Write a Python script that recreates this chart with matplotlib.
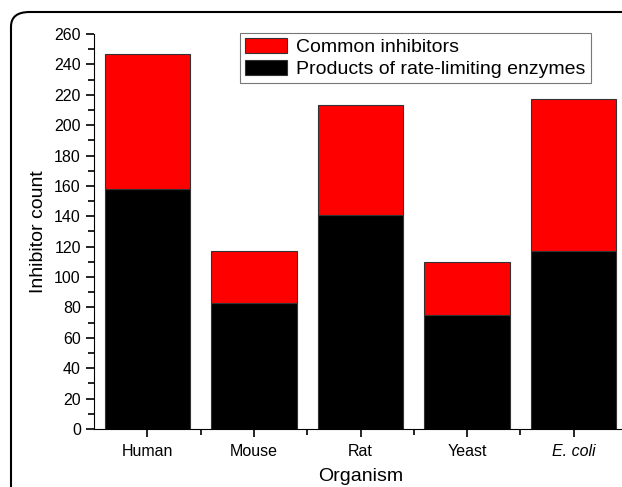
import matplotlib.pyplot as plt
from matplotlib.patches import FancyBboxPatch
from matplotlib.ticker import MultipleLocator, FixedLocator

plt.rcParams['font.family'] = ['Liberation Sans', 'DejaVu Sans']

organisms = ["Human", "Mouse", "Rat", "Yeast", "E. coli"]
rate_limiting = [158, 83, 141, 75, 117]
common = [89, 34, 72, 35, 100]  # stacked on top

fig = plt.figure(figsize=(6.22, 4.87), dpi=100)

# rounded frame around the figure (runs off right and bottom edge)
frame = FancyBboxPatch((11 / 622, -0.05), 1.1, 1.05 - 12 / 487,
                       boxstyle="round,pad=0,rounding_size=0.03",
                       transform=fig.transFigure, fill=False,
                       edgecolor="black", linewidth=1.5, clip_on=False)
fig.patches.append(frame)

ax = fig.add_axes([94 / 622, 1 - 429 / 487, 533 / 622, 395 / 487])
x = range(len(organisms))
ax.bar(x, rate_limiting, width=0.8, color="black", edgecolor="#333333",
       linewidth=0.8, label="Products of rate-limiting enzymes")
ax.bar(x, common, width=0.8, bottom=rate_limiting, color="#ff0000",
       edgecolor="#333333", linewidth=0.8, label="Common inhibitors")

ax.set_xlim(-0.5, 4.5)
ax.set_ylim(0, 260)
ax.yaxis.set_major_locator(MultipleLocator(20))
ax.yaxis.set_minor_locator(MultipleLocator(10))
ax.set_xticks(list(x))
ax.set_xticklabels(organisms)
ax.get_xticklabels()[4].set_style("italic")
ax.xaxis.set_minor_locator(FixedLocator([0.5, 1.5, 2.5, 3.5]))
for s in ("top", "right"):
    ax.spines[s].set_visible(False)
ax.tick_params(axis="both", which="major", direction="out", length=6,
               width=1.2, labelsize=11.5)
ax.tick_params(axis="both", which="minor", direction="out", length=4,
               width=1.2)
ax.tick_params(axis="x", which="major", pad=5)

ax.set_xlabel("Organism", fontsize=14, labelpad=6)
ax.set_ylabel("Inhibitor count", fontsize=14, labelpad=5)

handles, labels = ax.get_legend_handles_labels()
leg = ax.legend(handles[::-1], labels[::-1], loc="upper left",
                bbox_to_anchor=(146 / 533, 1.003), fontsize=14,
                frameon=True, fancybox=False, edgecolor="#555555",
                borderpad=0.25, labelspacing=0.2, handlelength=2.15,
                handleheight=0.82, handletextpad=0.5, borderaxespad=0)
leg.get_frame().set_linewidth(0.8)

fig.savefig("out.png", dpi=100)
